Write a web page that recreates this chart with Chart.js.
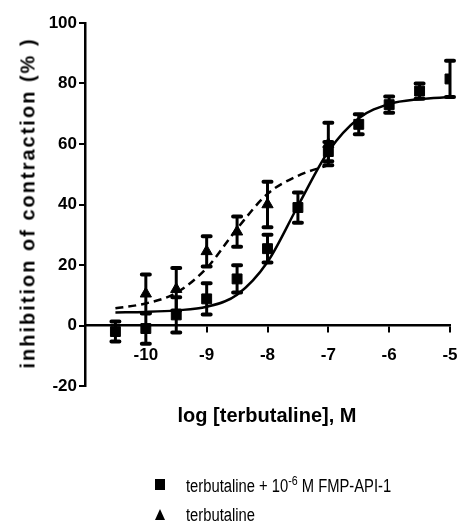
<!DOCTYPE html>
<html lang="en">
<head>
    <meta charset="UTF-8">
    <title>Inhibition of contraction vs log [terbutaline]</title>
    <script src="https://cdn.jsdelivr.net/npm/chart.js"></script>
    <style>
        body {
            margin: 0;
            background: #fff;
        }

        #wrap {
            position: relative;
            width: 459px;
            height: 525px;
        }

        #chart {
            position: absolute;
            left: 0;
            top: 0;
        }

        /* axis titles and legend are plain html text */
        #y-title {
            position: absolute;
            left: 28px;
            top: 203px;
            transform: translate(-50%, -50%) rotate(-90deg);
            font: bold 20px 'Liberation Sans', Arial, sans-serif;
            letter-spacing: 2px;
            white-space: nowrap;
        }

        #x-title {
            position: absolute;
            left: 267px;
            top: 415px;
            transform: translate(-50%, -50%);
            font: bold 20px 'Liberation Sans', Arial, sans-serif;
            white-space: nowrap;
        }

        .legend-row {
            position: absolute;
            left: 155px;
            font: 18px 'Liberation Sans', Arial, sans-serif;
            white-space: nowrap;
            line-height: 20px;
        }

        .legend-row .mark {
            display: inline-block;
            width: 31px;
            position: relative;
            height: 12px;
            vertical-align: baseline;
        }

        .legend-row .txt {
            display: inline-block;
            transform: scaleX(0.82);
            transform-origin: left center;
        }

        .sq {
            position: absolute;
            left: 0;
            top: -1px;
            width: 10px;
            height: 11px;
            background: #000;
        }

        .tri {
            position: absolute;
            left: 0;
            top: 0;
            width: 0;
            height: 0;
            border-left: 5px solid transparent;
            border-right: 5px solid transparent;
            border-bottom: 11px solid #000;
        }

        sup {
            font-size: 13px;
            line-height: 0;
        }
    </style>
</head>
<body>

<div id="wrap">
    <canvas id="chart" width="459" height="525"></canvas>
    <div id="y-title">inhibition of contraction (% )</div>
    <div id="x-title">log [terbutaline], M</div>
    <div class="legend-row" style="top: 476px;"><span class="mark"><span class="sq"></span></span><span class="txt">terbutaline + 10<sup>-6</sup> M FMP-API-1</span></div>
    <div class="legend-row" style="top: 505px;"><span class="mark"><span class="tri"></span></span><span class="txt">terbutaline</span></div>
</div>

<script>
    // log dose values and tick labels
    var xTicks = [-10, -9, -8, -7, -6, -5];
    var yTicks = [-20, 0, 20, 40, 60, 80, 100];

    // terbutaline + 10^-6 M FMP-API-1 (squares), mean and SEM
    var fmpDose = [-10.5, -10, -9.5, -9, -8.5, -8, -7.5, -7, -6.5, -6, -5.5, -5];
    var fmpMean = [-2, -1, 3.5, 8.8, 15.4, 25.4, 39, 57.5, 66.5, 73, 77.5, 81.5];
    var fmpSem  = [3.3, 5, 5.8, 5.2, 4.5, 4.6, 5, 3.2, 3.3, 2.7, 2.5, 6];

    // terbutaline alone (triangles)
    var terbDose = [-10, -9.5, -9, -8.5, -8, -7];
    var terbMean = [10.5, 12, 24.5, 31, 40, 60];
    var terbSem  = [6.4, 7, 5, 5, 7.5, 7];

    // fitted curves
    var fmpFitDose = [-10.5, -10, -9.5, -9, -8.5, -8, -7.5, -7, -6.5, -6, -5.5, -5];
    var fmpFit     = [4.3, 4.5, 5, 6.2, 10.2, 21, 39.5, 57.5, 68.5, 73.2, 74.8, 75.5];
    var terbFitDose = [-10.5, -10, -9.5, -9, -8.5, -8, -7.5, -7];
    var terbFit     = [5.7, 7.3, 10.8, 19, 32, 43.5, 49.5, 53];

    function pts(xs, ys) {
        return xs.map(function (x, i) { return { x: x, y: ys[i] }; });
    }

    var tickFont = { family: "'Liberation Sans', Arial, sans-serif", size: 17, weight: 'bold' };

    // draws the SEM bars with caps
    var errorBars = {
        id: 'errorBars',
        afterDatasetsDraw: function (chart) {
            var ctx = chart.ctx;
            var yScale = chart.scales.y;
            var sets = [[2, terbMean, terbSem], [3, fmpMean, fmpSem]];
            ctx.save();
            ctx.strokeStyle = '#000';
            sets.forEach(function (s) {
                var meta = chart.getDatasetMeta(s[0]);
                meta.data.forEach(function (p, i) {
                    var top = yScale.getPixelForValue(s[1][i] + s[2][i]);
                    var bot = yScale.getPixelForValue(s[1][i] - s[2][i]);
                    ctx.lineWidth = 3;
                    ctx.lineCap = 'butt';
                    ctx.beginPath();
                    ctx.moveTo(p.x, top);
                    ctx.lineTo(p.x, bot);
                    ctx.stroke();
                    ctx.lineWidth = 4;
                    ctx.lineCap = 'round';
                    ctx.beginPath();
                    ctx.moveTo(p.x - 4, top);
                    ctx.lineTo(p.x + 4, top);
                    ctx.moveTo(p.x - 4, bot);
                    ctx.lineTo(p.x + 4, bot);
                    ctx.stroke();
                });
            });
            ctx.restore();
        }
    };

    var chart = new Chart(document.getElementById('chart'), {
        type: 'scatter',
        data: {
            datasets: [{
                label: 'fit FMP',
                data: pts(fmpFitDose, fmpFit),
                showLine: true,
                pointRadius: 0,
                borderColor: '#000',
                borderWidth: 2.5,
                cubicInterpolationMode: 'monotone'
            }, {
                label: 'fit terbutaline',
                data: pts(terbFitDose, terbFit),
                showLine: true,
                pointRadius: 0,
                borderColor: '#000',
                borderWidth: 2.5,
                borderDash: [8, 5],
                cubicInterpolationMode: 'monotone'
            }, {
                label: 'terbutaline',
                data: pts(terbDose, terbMean),
                pointStyle: 'triangle',
                pointRadius: 6.5,
                backgroundColor: '#000',
                borderColor: '#000',
                borderWidth: 1
            }, {
                label: 'terbutaline + 10-6 M FMP-API-1',
                data: pts(fmpDose, fmpMean),
                pointStyle: 'rect',
                pointRadius: 7,
                backgroundColor: '#000',
                borderColor: '#000',
                borderWidth: 1
            }]
        },
        options: {
            responsive: false,
            animation: false,
            events: [],
            layout: { padding: { left: 0, top: 23, right: 9, bottom: 139 } },
            plugins: {
                legend: { display: false },
                tooltip: { enabled: false }
            },
            scales: {
                x: {
                    type: 'linear',
                    position: { y: 0 },
                    min: -11,
                    max: -5,
                    afterBuildTicks: function (scale) {
                        scale.ticks = xTicks.map(function (v) { return { value: v }; });
                    },
                    afterFit: function (scale) {
                        scale.paddingLeft = 0;
                        scale.paddingRight = 0;
                    },
                    grid: { drawOnChartArea: false, tickLength: 6, lineWidth: 2, color: '#000' },
                    border: { color: '#000', width: 2.5 },
                    ticks: { color: '#000', font: tickFont, padding: 14, maxRotation: 0 }
                },
                y: {
                    min: -20,
                    max: 100,
                    afterBuildTicks: function (scale) {
                        scale.ticks = yTicks.map(function (v) { return { value: v }; });
                    },
                    afterFit: function (scale) { scale.width = 85; },
                    grid: { drawOnChartArea: false, tickLength: 6, lineWidth: 2, color: '#000' },
                    border: { color: '#000', width: 2.5 },
                    ticks: { color: '#000', font: tickFont, padding: 2 }
                }
            }
        },
        plugins: [errorBars]
    });
</script>

</body>
</html>
